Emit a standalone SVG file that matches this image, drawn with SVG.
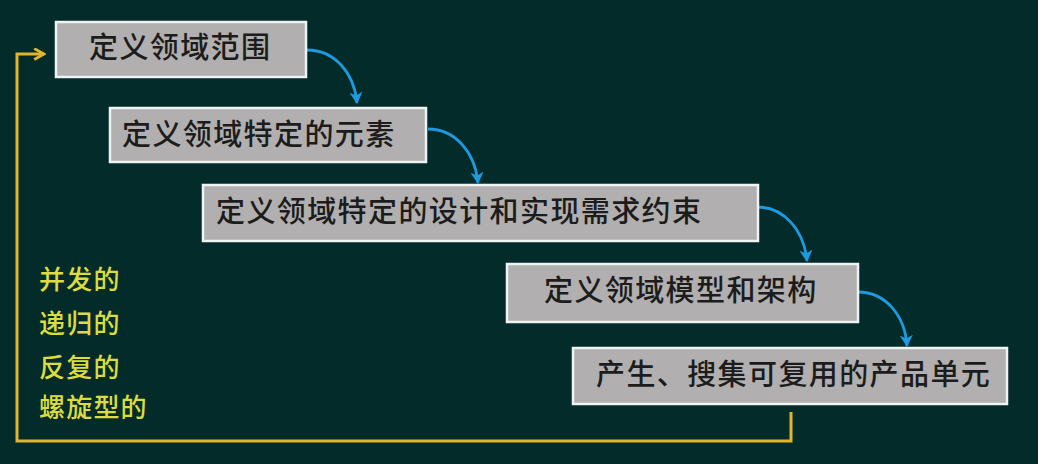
<svg xmlns="http://www.w3.org/2000/svg" width="1038" height="464" viewBox="0 0 1038 464">
  <style>
    .box rect { fill: #b1afaf; stroke: #eef3f3; stroke-width: 2.5; }
    .box text { font-family: "Microsoft YaHei", "Noto Sans CJK SC", sans-serif; font-size: 29px; font-weight: 500; letter-spacing: 1.4px; fill: #1c1c1c; }
    .flow { fill: none; stroke: #1e9be0; stroke-width: 2.8; marker-end: url(#blueHead); }
    .loop { fill: none; stroke: #e2b52a; stroke-width: 3; }
    .note { font-family: "Noto Sans CJK SC", sans-serif; font-size: 26px; font-weight: 500; letter-spacing: 1.2px; fill: #dcdc3e; }
  </style>
  <defs>
    <marker id="blueHead" viewBox="0 0 12 12" refX="10" refY="6" markerWidth="13" markerHeight="13" markerUnits="userSpaceOnUse" orient="auto">
      <path d="M0,0 L11,6 L0,12 L3,6 Z" fill="#1e9be0"/>
    </marker>
    <marker id="yellowHead" viewBox="0 0 12 12" refX="10" refY="6" markerWidth="13" markerHeight="13" markerUnits="userSpaceOnUse" orient="auto">
      <path d="M1,1 L10,6 L1,11" fill="none" stroke="#e2b52a" stroke-width="2.6"/>
    </marker>
  </defs>

  <rect width="1038" height="464" fill="#032b2a"/>

  <!-- connectors -->
  <g id="connectors">
    <path class="flow" d="M307,50 C334,50 354,72 357,103"/>
    <path class="flow" d="M428,129 C455,129 475,152 478,183"/>
    <path class="flow" d="M757,207 C784,207 804,230 807,261"/>
    <path class="flow" d="M858,292 C885,292 905,315 907,346"/>
    <path class="loop" d="M791,412 L791,441 L17,441 L17,54 L44,54" marker-end="url(#yellowHead)"/>
  </g>

  <g id="step1" class="box">
    <rect x="56" y="22" width="250" height="55"/>
    <text x="89" y="58">定义领域范围</text>
  </g>
  <g id="step2" class="box">
    <rect x="110" y="108" width="316" height="54"/>
    <text x="122" y="145">定义领域特定的元素</text>
  </g>
  <g id="step3" class="box">
    <rect x="203" y="185" width="555" height="56"/>
    <text x="216" y="222">定义领域特定的设计和实现需求约束</text>
  </g>
  <g id="step4" class="box">
    <rect x="507" y="264" width="351" height="58"/>
    <text x="544" y="301">定义领域模型和架构</text>
  </g>
  <g id="step5" class="box">
    <rect x="573" y="348" width="434" height="56"/>
    <text x="596" y="385">产生、搜集可复用的产品单元</text>
  </g>

  <g id="traits">
    <text class="note" x="39" y="289">并发的</text>
    <text class="note" x="39" y="333">递归的</text>
    <text class="note" x="39" y="377">反复的</text>
    <text class="note" x="39" y="417">螺旋型的</text>
  </g>
</svg>
